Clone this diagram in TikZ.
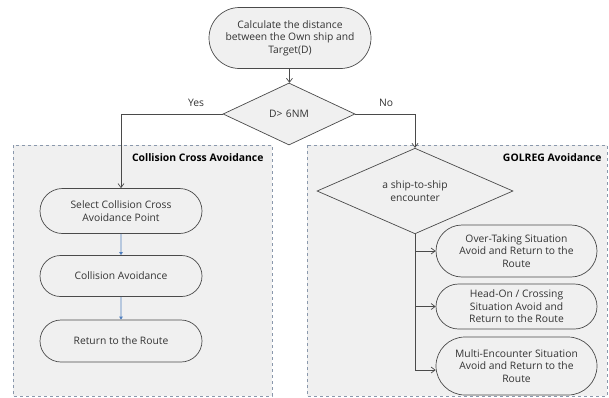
\documentclass[tikz,border=0pt]{standalone}
\usepackage{fontspec}
\setmainfont{Open Sans}
\usetikzlibrary{shapes.misc,shapes.geometric,arrows.meta}
\definecolor{boxfill}{HTML}{F0F0F0}
\definecolor{edge}{HTML}{4A4A4A}
\definecolor{dashc}{HTML}{8A98AC}
\definecolor{bluearr}{HTML}{4F7FBF}
\definecolor{txt}{HTML}{333333}
\tikzset{
  term/.style={rounded rectangle, draw=edge, fill=boxfill, line width=0.7pt, align=center, inner sep=1pt, text=txt, font=\fontsize{10.3}{12.5}\selectfont},
  decide/.style={diamond, draw=edge, fill=boxfill, line width=0.7pt, align=center, inner sep=0pt, text=txt, font=\fontsize{10.3}{12.5}\selectfont},
  container/.style={draw=dashc, fill=boxfill, dashed, line width=0.6pt},
  conn/.style={draw=edge, line width=0.7pt, -{Straight Barb[length=4pt,width=6pt]}},
  bconn/.style={draw=bluearr, line width=0.8pt, -{Triangle[length=3pt,width=3.5pt]}},
  lbl/.style={text=txt, font=\fontsize{10.3}{12}\selectfont},
  ttl/.style={font=\bfseries\fontsize{10.4}{12}\selectfont, anchor=east}
}
\begin{document}
\begin{tikzpicture}[x=1pt,y=-1pt]
\useasboundingbox (0,0) rectangle (609,397);
% containers
\path[container] (13,145) rectangle (272,396);
\path[container] (307,145) rectangle (607,396);
\node[ttl] (t1) at (267,158) {Collision Cross Avoidance};
\node[ttl] (t2) at (605,158) {GOLREG Avoidance};
% nodes
\node[term, minimum width=164pt, minimum height=61pt] (calc) at (290,38) {Calculate the distance\\between the Own ship and\\Target(D)};
\node[decide, minimum width=132pt, minimum height=62pt] (d1) at (289,114) {D>\,\,6NM};
\node[term, minimum width=164pt, minimum height=45pt] (sel) at (121,211) {Select Collision Cross\\Avoidance Point};
\node[term, minimum width=164pt, minimum height=41pt] (ca) at (121,276) {Collision Avoidance};
\node[term, minimum width=164pt, minimum height=42pt] (ret) at (121,341) {Return to the Route};
\node[decide, minimum width=196pt, minimum height=58pt] (d2) at (415,191) {a ship-to-ship\\encounter};
\node[term, minimum width=163pt, minimum height=52pt] (r1) at (516.5,251) {Over-Taking Situation\\Avoid and Return to the\\Route};
\node[term, minimum width=163pt, minimum height=45pt] (r2) at (516.5,306.5) {Head-On / Crossing\\Situation Avoid and\\Return to the Route};
\node[term, minimum width=163pt, minimum height=58pt] (r3) at (516.5,366) {Multi-Encounter Situation\\Avoid and Return to the\\Route};
% connectors
\draw[conn] (calc) -- (d1);
\draw[conn] (d1.west) -| (sel.north);
\draw[conn] (d1.east) -| (d2.north);
\node[lbl] (yes) at (196,103) {Yes};
\node[lbl] (no) at (386,103) {No};
\draw[bconn] (sel) -- (ca);
\draw[bconn] (ca) -- (ret);
\coordinate (bend) at (415,370);
\draw[draw=edge, line width=0.7pt] (d2.south) -- (bend);
\draw[conn] (d2.south |- r1.west) -- (r1.west);
\draw[conn] (d2.south |- r2.west) -- (r2.west);
\draw[conn] (bend) -- (bend -| r3.west);
\end{tikzpicture}
\end{document}
